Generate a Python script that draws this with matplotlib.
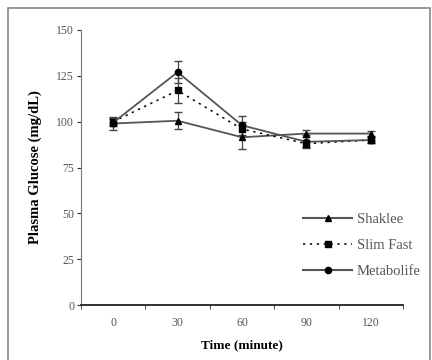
import numpy as np
import matplotlib
matplotlib.use("Agg")
import matplotlib.pyplot as plt
from matplotlib.patches import Rectangle
from matplotlib.lines import Line2D

plt.rcParams['font.family'] = ['Liberation Serif', 'DejaVu Serif']

times = ['0', '30', '60', '90', '120']
shaklee = [99, 100.5, 91.5, 93.5, 93.5]
shaklee_err = [3.5, 4.5, 6.5, 2, 1.5]
slimfast = [100, 117, 96, 88, 90]
slimfast_err = [2, 7, 4, 2, 1.5]
metabolife = [99.5, 127, 98, 89, 90]
metabolife_err = [2, 6, 5, 3.5, 1.5]

fig = plt.figure(figsize=(4.32, 3.6), dpi=100)
ax = fig.add_axes([81/432, 55/360, 322/432, 275/360])

x = np.arange(len(times))

ax.errorbar(x, shaklee, yerr=shaklee_err, color='#555555', lw=1.3, marker='^',
            ms=4.5, mfc='black', mec='black', ecolor='#444444', elinewidth=0.9,
            capsize=3)
ax.errorbar(x, slimfast, yerr=slimfast_err, color='black', lw=1.1, ls=(0, (1.5, 3)),
            marker='s', ms=4, mfc='black', mec='black', ecolor='#444444',
            elinewidth=0.9, capsize=3)
ax.errorbar(x, metabolife, yerr=metabolife_err, color='#555555', lw=1.3, marker='o',
            ms=4.5, mfc='black', mec='black', ecolor='#444444', elinewidth=0.9,
            capsize=3)

ax.set_xlim(-0.5, len(times) - 0.5)
ax.set_ylim(0, 150)
ax.set_yticks(np.arange(0, 151, 25))
ax.set_xticks(x)
ax.set_xticklabels(times)
ax.set_xticks(np.arange(-0.5, len(times), 1), minor=True)
ax.tick_params(axis='x', which='major', length=0, pad=9, labelsize=8.5, labelcolor='#555555')
ax.tick_params(axis='x', which='minor', length=3, direction='out', color='#333333')
ax.tick_params(axis='y', length=3, direction='out', labelsize=8.5, labelcolor='#555555',
               color='#333333', pad=2)

for s in ['top', 'right']:
    ax.spines[s].set_visible(False)
ax.spines['left'].set_color('#777777')
ax.spines['left'].set_linewidth(0.8)
ax.spines['bottom'].set_color('#222222')
ax.spines['bottom'].set_linewidth(1.3)

ax.set_xlabel('Time (minute)', fontsize=9.5, fontweight='bold', labelpad=7)
ax.set_ylabel('Plasma Glucose (mg/dL)', fontsize=10.5, fontweight='bold', labelpad=10)

handles = [
    Line2D([], [], color='#555555', lw=1.5, marker='^', ms=4.5, mfc='black', mec='black'),
    Line2D([], [], color='black', lw=1.1, ls=(0, (1.5, 3)), marker='s', ms=4, mfc='black', mec='black'),
    Line2D([], [], color='#555555', lw=1.5, marker='o', ms=4.5, mfc='black', mec='black'),
]
labels = ['Shaklee', 'Slim Fast', 'Metabolife']
fig.legend(handles, labels, loc='upper left', bbox_to_anchor=(302/432, 1 - 211/360),
           frameon=False, fontsize=10.5, handlelength=3.3, handletextpad=0.35,
           labelspacing=0.9, labelcolor='#555555', borderaxespad=0, borderpad=0.1)

fig.patches.append(Rectangle((8/432, -0.02), 422/432, 1 - 8/360 + 0.02,
                             transform=fig.transFigure, fill=False,
                             edgecolor='#888888', lw=1.2))

fig.savefig('out.png', dpi=100)
